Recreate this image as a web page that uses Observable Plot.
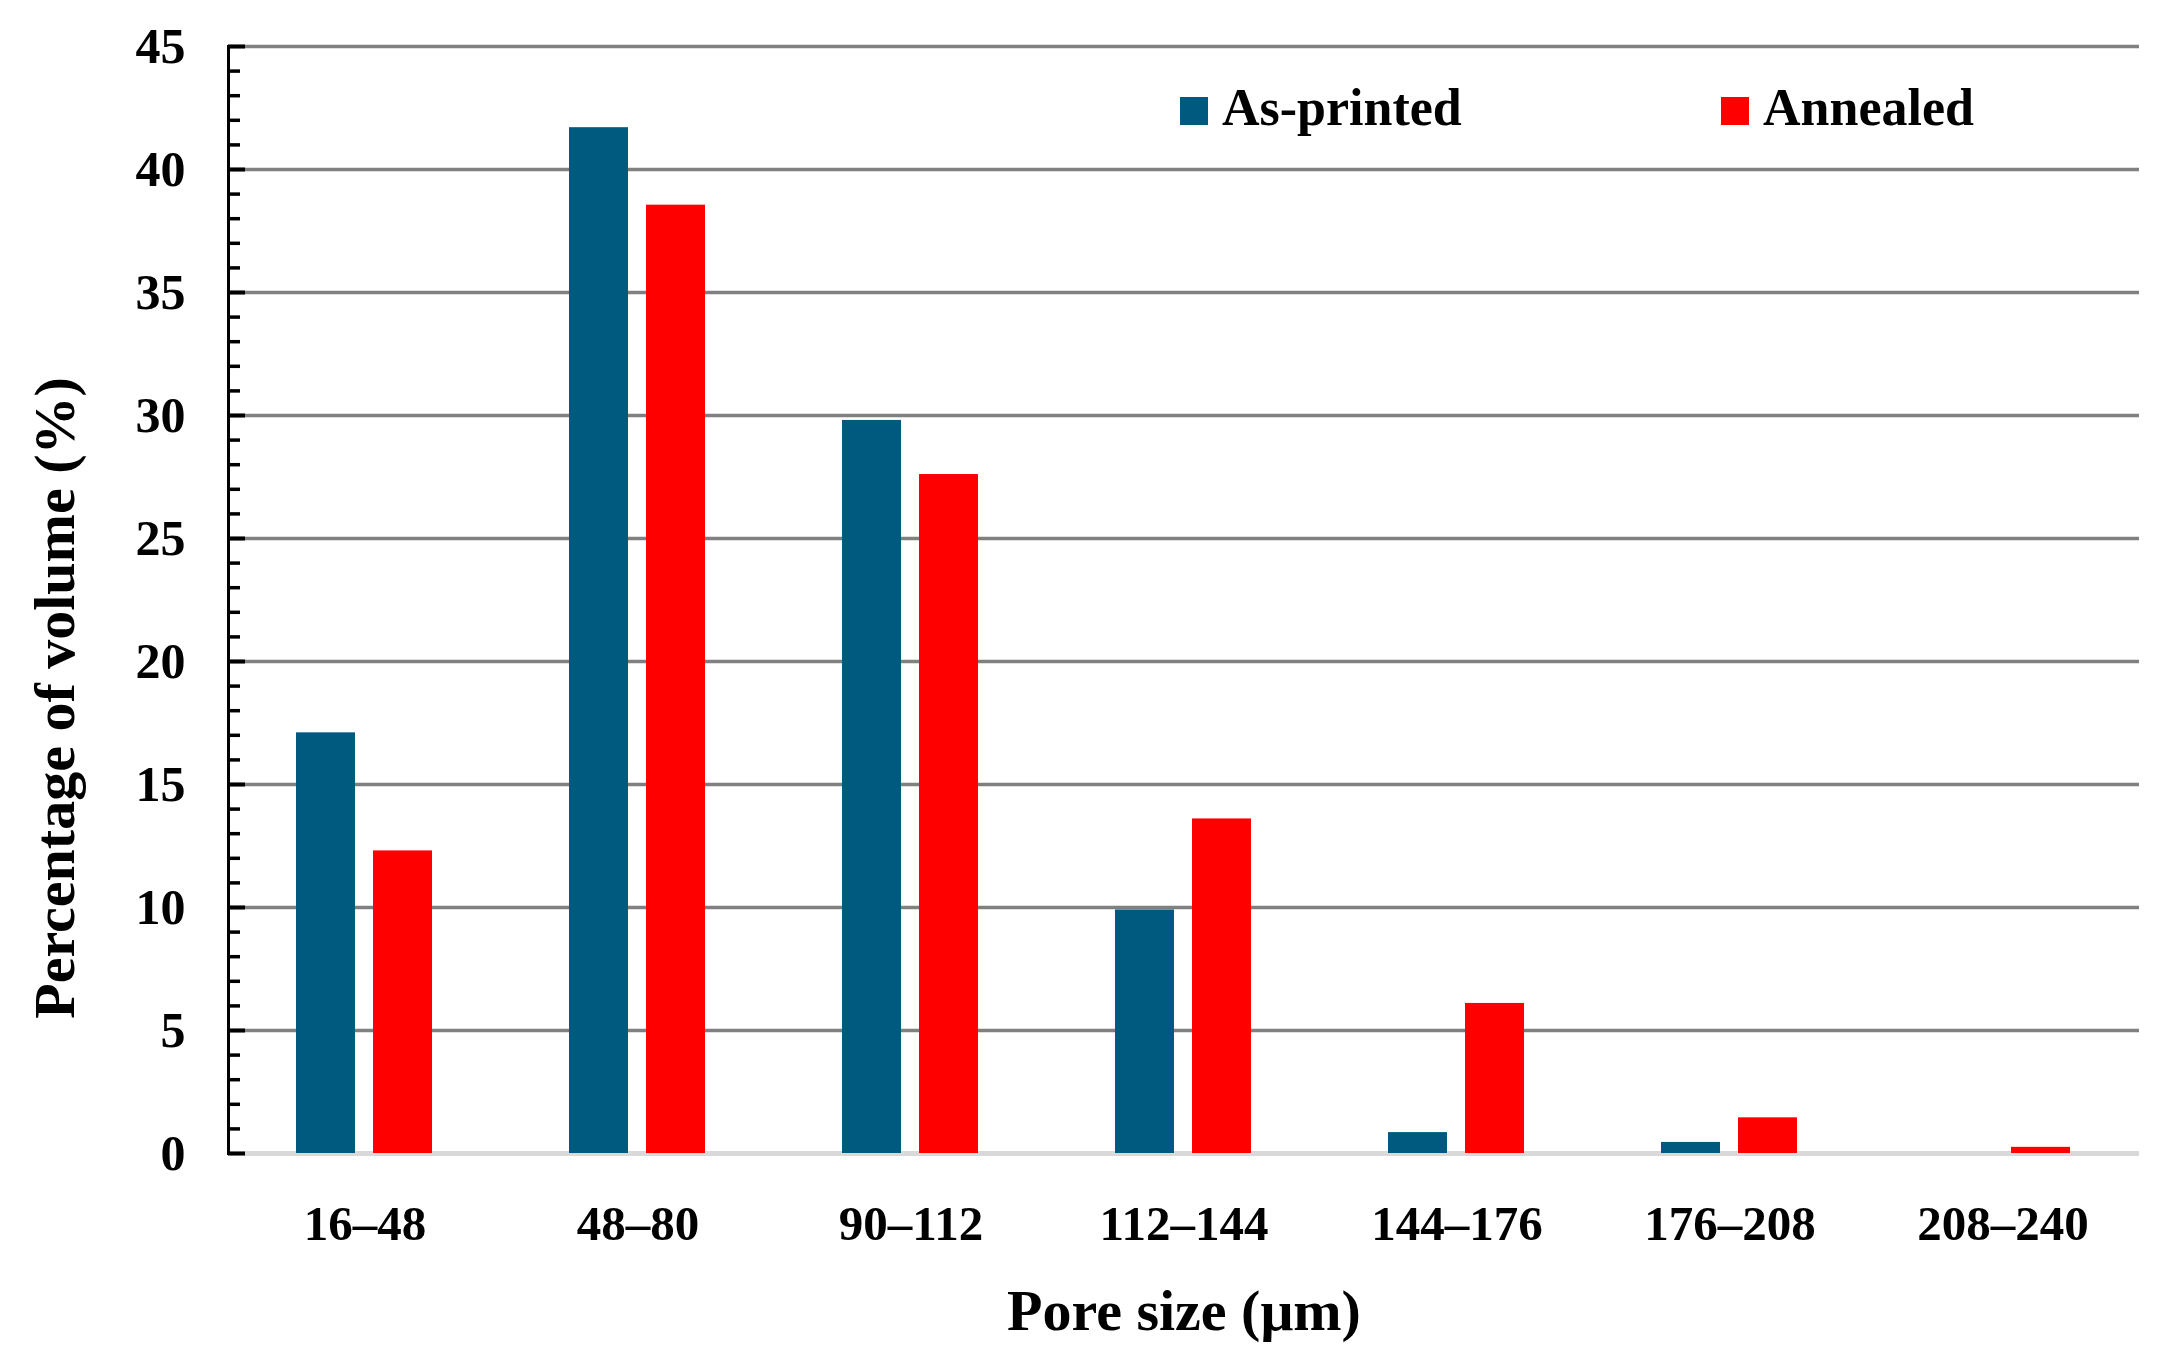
<!DOCTYPE html>
<html><head><meta charset="utf-8">
<script src="https://cdn.jsdelivr.net/npm/d3@7"></script>
<script src="https://cdn.jsdelivr.net/npm/@observablehq/plot@0.6"></script>
<style>
html,body{margin:0;padding:0;background:#fff;}
#wrap{position:relative;width:2180px;height:1356px;font-family:"Palatino Linotype","Book Antiqua",Palatino,"Liberation Serif",serif;}
#wrap svg{display:block;}
#legend{position:absolute;left:1180px;top:82px;display:flex;font-weight:bold;font-size:52px;line-height:52px;color:#000;white-space:nowrap;}
#legend .item{width:541px;}
#legend .item:last-child{width:auto;}
#legend .sw{display:inline-block;width:28px;height:28px;margin-right:14px;vertical-align:baseline;}
</style></head>
<body><div id="wrap"></div>
<script>
// ---- data ----
const categories = ["16–48", "48–80", "90–112", "112–144", "144–176", "176–208", "208–240"];
const series = ["As-printed", "Annealed"];
const asPrinted = [17.1, 41.7, 29.8, 9.9, 0.85, 0.45, 0];
const annealed = [12.3, 38.55, 27.6, 13.6, 6.1, 1.45, 0.25];
const colors = ["#005a80", "#ff0000"];
const yTicks = [0, 5, 10, 15, 20, 25, 30, 35, 40, 45];
const yMinorTicks = [1,2,3,4,6,7,8,9,11,12,13,14,16,17,18,19,21,22,23,24,26,27,28,29,31,32,33,34,36,37,38,39,41,42,43,44];
const xTitle = "Pore size (μm)";
const yTitle = "Percentage of volume (%)";

const rows = categories.flatMap((c, i) => [
  {cat: c, series: series[0], value: asPrinted[i]},
  {cat: c, series: series[1], value: annealed[i]}
]);

const font = '"Palatino Linotype","Book Antiqua",Palatino,"Liberation Serif",serif';

const chart = Plot.plot({
  width: 2180,
  height: 1356,
  marginLeft: 225,
  marginRight: 39,
  marginTop: 46,
  marginBottom: 203,
  style: {fontFamily: font, background: "white", color: "black", overflow: "visible"},
  fx: {domain: categories, padding: 0, label: null},
  x: {domain: series, paddingInner: 0.23, paddingOuter: 0.88, axis: null},
  y: {domain: [0, 45]},
  color: {domain: series, range: colors},
  marks: [
    Plot.gridY(yTicks.filter(d => d > 0), {stroke: "#808080", strokeOpacity: 1, strokeWidth: 3.5}),
    Plot.ruleY([0], {stroke: "#d9d9d9", strokeWidth: 5}),
    Plot.barY(rows, {fx: "cat", x: "series", y: "value", fill: "series"}),
    Plot.frame({anchor: "left", facetAnchor: "left", stroke: "black", strokeWidth: 3}),
    Plot.axisY(yMinorTicks, {tickSize: -12, fill: "none", strokeWidth: 3.5, label: null}),
    Plot.axisY(yTicks, {tickSize: -17, fill: "none", strokeWidth: 4, label: null}),
    Plot.axisY(yTicks, {tickSize: 0, tickPadding: 43, fontSize: 50, fontWeight: "bold", label: null}),
    Plot.axisFx({anchor: "bottom", tickSize: 0, tickPadding: 52, fontSize: 49, fontWeight: "bold", label: null}),
    Plot.axisFx({anchor: "bottom", tickSize: 0, tickFormat: () => "", fontSize: 58, fontWeight: "bold",
      label: xTitle, labelAnchor: "center", labelOffset: 176, labelArrow: "none"}),
    Plot.text([yTitle], {text: d => d, frameAnchor: "left", facetAnchor: "left", rotate: -90,
      textAnchor: "middle", dx: -173, dy: 98, fontSize: 58, fontWeight: "bold", lineAnchor: "middle", fill: "black"})
  ]
});

const wrap = document.getElementById("wrap");
wrap.appendChild(chart);

const legend = document.createElement("div");
legend.id = "legend";
series.forEach((s, i) => {
  const item = document.createElement("span");
  item.className = "item";
  const sw = document.createElement("span");
  sw.className = "sw";
  sw.style.background = colors[i];
  item.appendChild(sw);
  item.appendChild(document.createTextNode(s));
  legend.appendChild(item);
});
wrap.appendChild(legend);
</script>
</body></html>
